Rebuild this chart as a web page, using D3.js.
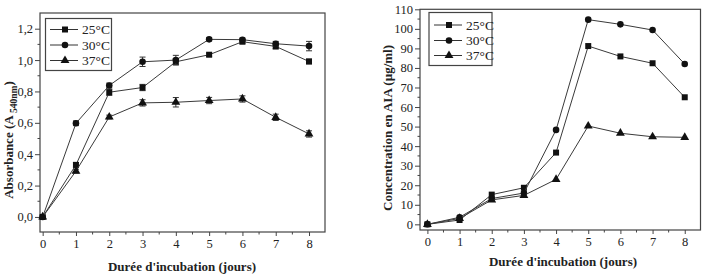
<!DOCTYPE html>
<html><head><meta charset="utf-8">
<script src="https://cdn.jsdelivr.net/npm/d3@7/dist/d3.min.js"></script>
<style>body{margin:0;background:#fff}svg{display:block}text{font-family:"Liberation Serif","Times New Roman",serif;fill:#222}</style>
</head><body>
<script>
const days = [0,1,2,3,4,5,6,7,8];
const seriesNames = ["25°C","30°C","37°C"];
const absorbance25 = [0,0.332,0.795,0.825,0.989,1.034,1.117,1.087,0.991];
const absorbance30 = [0,0.597,0.838,0.989,1.0,1.132,1.13,1.104,1.089];
const absorbance37 = [0,0.292,0.637,0.727,0.731,0.742,0.752,0.635,0.529];
const absErr25 = [0,0.015,0.02,0.02,0.02,0.01,0.012,0.015,0.015];
const absErr30 = [0,0.015,0.015,0.03,0.03,0.01,0.01,0.015,0.03];
const absErr37 = [0,0.012,0.012,0.02,0.03,0.02,0.02,0.02,0.02];
const aia25 = [0,2.2,15.2,18.7,36.7,91.2,85.9,82.4,65.0];
const aia30 = [0,3.6,13.2,16.0,48.3,104.7,102.3,99.4,82.0];
const aia37 = [0,3.0,12.5,14.8,23.0,50.3,46.6,44.8,44.5];
const leftYTicks = [0,0.2,0.4,0.6,0.8,1.0,1.2];
const rightYTicks = [0,10,20,30,40,50,60,70,80,90,100,110];

const svg = d3.select("body").append("svg").attr("width",707).attr("height",276);
const shapes = [d3.symbolSquare, d3.symbolCircle, d3.symbolTriangle];
const sizes = [36, 34, 34];

function panel(cfg){
  const g = svg.append("g");
  const x = d3.scaleLinear().domain(cfg.xd).range([cfg.x0,cfg.x1]);
  const y = d3.scaleLinear().domain(cfg.yd).range([cfg.y1,cfg.y0]);
  const xa = d3.axisBottom(x).tickValues(days).tickSize(4).tickPadding(3).tickFormat(d3.format("d"));
  const gx = g.append("g").attr("transform",`translate(0,${cfg.y1})`).call(xa);
  gx.select(".domain").remove();
  gx.selectAll("text").attr("font-size",12.5).attr("font-family","Liberation Serif").attr("fill","#222");
  gx.selectAll("line").attr("stroke","#444");
  const minorX = d3.range(0.5,8.5,1);
  g.selectAll(".mx").data(minorX).enter().append("line")
    .attr("x1",d=>x(d)).attr("x2",d=>x(d)).attr("y1",cfg.y1).attr("y2",cfg.y1+2.5).attr("stroke","#444");
  const ya = d3.axisLeft(y).tickValues(cfg.yticks).tickSize(5).tickPadding(2).tickFormat(cfg.fmt);
  const gy = g.append("g").attr("transform",`translate(${cfg.x0},0)`).call(ya);
  gy.select(".domain").remove();
  gy.selectAll("text").attr("font-size",12.5).attr("font-family","Liberation Serif").attr("fill","#222");
  gy.selectAll("line").attr("stroke","#444");
  g.selectAll(".my").data(cfg.minorY).enter().append("line")
    .attr("x1",cfg.x0).attr("x2",cfg.x0-2.5).attr("y1",d=>y(d)).attr("y2",d=>y(d)).attr("stroke","#444");
  g.append("rect").attr("x",cfg.x0).attr("y",cfg.y0).attr("width",cfg.x1-cfg.x0).attr("height",cfg.y1-cfg.y0)
    .attr("fill","none").attr("stroke","#444").attr("stroke-width",1.2);
  const line = d3.line().x((d,i)=>x(days[i])).y(d=>y(d));
  cfg.series.forEach((s,k)=>{
    g.append("path").datum(s).attr("d",line).attr("fill","none").attr("stroke","#3a3a3a").attr("stroke-width",1);
    if(cfg.errs){
      const e = cfg.errs[k];
      s.forEach((v,i)=>{
        if(e[i]<=0) return;
        const cx = x(days[i]);
        g.append("line").attr("x1",cx).attr("x2",cx).attr("y1",y(v-e[i])).attr("y2",y(v+e[i])).attr("stroke","#333");
        [v-e[i],v+e[i]].forEach(t=>g.append("line").attr("x1",cx-3).attr("x2",cx+3).attr("y1",y(t)).attr("y2",y(t)).attr("stroke","#333"));
      });
    }
    g.selectAll(null).data(s).enter().append("path")
      .attr("d",d3.symbol().type(shapes[k]).size(sizes[k]))
      .attr("transform",(d,i)=>`translate(${x(days[i])},${y(d)})`).attr("fill","#111");
  });
  const L = cfg.legend;
  g.append("rect").attr("x",L.x).attr("y",L.y).attr("width",L.w).attr("height",L.h)
    .attr("fill","#fff").attr("stroke","#444").attr("stroke-width",1.2);
  seriesNames.forEach((n,k)=>{
    const ry = L.rows[k];
    g.append("line").attr("x1",L.lx0).attr("x2",L.lx1).attr("y1",ry).attr("y2",ry).attr("stroke","#333");
    g.append("path").attr("d",d3.symbol().type(shapes[k]).size(sizes[k])).attr("transform",`translate(${L.mx},${ry})`).attr("fill","#111");
    g.append("text").attr("x",L.tx).attr("y",ry+4.5).attr("font-size",13.5).text(n);
  });
  g.append("text").attr("x",cfg.xt[0]).attr("y",cfg.xt[1]).attr("text-anchor","middle")
    .attr("font-size",13).attr("font-weight","bold").text("Durée d'incubation (jours)");
  const yt = g.append("text").attr("transform",`translate(${cfg.yt[0]},${cfg.yt[1]}) rotate(-90)`)
    .attr("text-anchor","middle").attr("font-size",13).attr("font-weight","bold");
  cfg.ytitle(yt);
}

panel({
  x0:40,x1:325,y0:13,y1:232,xd:[-0.08,8.48],yd:[-0.096,1.3],
  yticks:leftYTicks,minorY:d3.range(0.1,1.3,0.2),fmt:d=>d3.format(".1f")(d).replace(".",","),
  series:[absorbance25,absorbance30,absorbance37],errs:[absErr25,absErr30,absErr37],
  legend:{x:45.5,y:18.5,w:66,h:52,rows:[29.5,45,60.5],lx0:50,lx1:78,mx:65,tx:82},
  xt:[182,271],yt:[12.5,140],
  ytitle:t=>{t.append("tspan").text("Absorbance (A");
    t.append("tspan").attr("font-size",9.5).attr("dy",4).text(" 540nm");
    t.append("tspan").attr("dy",-4).text(")");}
});
panel({
  x0:420,x1:700.5,y0:9.3,y1:230,xd:[-0.23,8.49],yd:[-2.9,110],
  yticks:rightYTicks,minorY:d3.range(5,110,10),fmt:d3.format("d"),
  series:[aia25,aia30,aia37],errs:null,
  legend:{x:429,y:12.5,w:63,h:53,rows:[25,40.5,55.5],lx0:434,lx1:462,mx:449,tx:466},
  xt:[563,266],yt:[392,128],
  ytitle:t=>t.text("Concentration en AIA (µg/ml)")
});
</script>
</body></html>
